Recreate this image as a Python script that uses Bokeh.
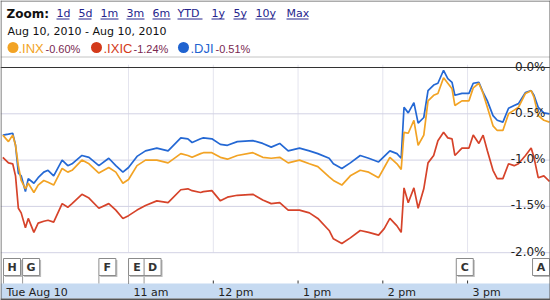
from bokeh.plotting import figure
from bokeh.models import Range1d
from bokeh.embed import file_html
from bokeh.resources import INLINE
from bokeh.core.properties import value

# ---------------- data ----------------
minutes = [1, 5, 8, 10, 12, 14, 17, 19, 23, 26,
           30, 33, 37, 43, 47, 50, 57, 62, 69, 76,
           81, 86, 90, 96, 102, 110, 118, 127, 132, 135,
           141, 143, 149, 155, 160, 167, 178, 185, 191, 197,
           203, 211, 218, 224, 232, 235, 241, 247, 254, 260,
           267, 271, 275, 280, 283, 285, 288, 292, 295, 299,
           302, 306, 309, 313, 316, 319, 321, 326, 331, 334,
           338, 341, 344, 348, 351, 355, 359, 363, 366, 371,
           375, 377, 380, 384, 388]

dji = [-0.73, -0.72, -0.71, -0.84, -1.14, -1.17, -1.34, -1.20, -1.25, -1.19,
       -1.13, -1.11, -1.17, -1.00, -1.06, -1.04, -0.95, -0.97, -1.06, -0.98,
       -1.06, -1.13, -1.08, -0.96, -0.90, -0.87, -0.90, -0.76, -0.77, -0.81,
       -0.77, -0.76, -0.77, -0.83, -0.84, -0.80, -0.79, -0.82, -0.86, -0.82,
       -0.90, -0.87, -0.90, -0.93, -0.98, -1.04, -1.09, -1.03, -0.95, -0.98,
       -1.02, -0.96, -0.90, -0.93, -0.98, -0.43, -0.49, -0.38, -0.60, -0.54,
       -0.25, -0.19, -0.17, -0.03, -0.12, -0.16, -0.30, -0.28, -0.28, -0.17,
       -0.16, -0.27, -0.36, -0.52, -0.57, -0.59, -0.44, -0.41, -0.39, -0.27,
       -0.25, -0.30, -0.43, -0.49, -0.50]

inx = [-0.73, -0.80, -0.73, -0.84, -1.06, -1.22, -1.31, -1.25, -1.35, -1.27,
       -1.22, -1.24, -1.27, -1.09, -1.13, -1.11, -1.00, -1.04, -1.14, -1.08,
       -1.13, -1.25, -1.21, -1.06, -1.00, -1.00, -1.03, -0.93, -0.95, -0.97,
       -0.93, -0.92, -0.92, -0.97, -0.99, -0.95, -0.92, -0.97, -0.98, -0.97,
       -1.03, -1.00, -1.04, -1.07, -1.18, -1.22, -1.27, -1.17, -1.11, -1.13,
       -1.19, -1.08, -0.97, -1.04, -1.10, -0.70, -0.71, -0.57, -0.84, -0.73,
       -0.36, -0.30, -0.28, -0.11, -0.17, -0.23, -0.41, -0.36, -0.36, -0.22,
       -0.17, -0.28, -0.43, -0.63, -0.68, -0.68, -0.50, -0.46, -0.43, -0.28,
       -0.25, -0.32, -0.52, -0.57, -0.59]

ixic = [-0.97, -1.03, -1.04, -1.17, -1.52, -1.57, -1.73, -1.63, -1.78, -1.68,
        -1.66, -1.65, -1.67, -1.47, -1.51, -1.47, -1.37, -1.41, -1.52, -1.47,
        -1.54, -1.63, -1.60, -1.54, -1.49, -1.44, -1.46, -1.32, -1.31, -1.33,
        -1.35, -1.34, -1.33, -1.44, -1.40, -1.38, -1.37, -1.43, -1.47, -1.46,
        -1.54, -1.54, -1.57, -1.63, -1.76, -1.85, -1.90, -1.84, -1.76, -1.78,
        -1.81, -1.74, -1.63, -1.71, -1.78, -1.30, -1.46, -1.30, -1.52, -1.31,
        -1.03, -0.95, -0.79, -0.70, -0.76, -0.77, -0.95, -0.87, -0.87, -0.73,
        -0.82, -0.73, -0.90, -1.11, -1.20, -1.20, -1.04, -1.06, -1.04, -0.95,
        -0.87, -0.97, -1.19, -1.17, -1.23]

y_ticks = [0.0, -0.5, -1.0, -1.5, -2.0]
y_tick_labels = ["0.0%", "-0.5%", "-1.0%", "-1.5%", "-2.0%"]
hour_minutes = [90, 150, 210, 270, 330]
hour_labels = ["11 am", "12 pm", "1 pm", "2 pm", "3 pm"]
day_label = "Tue Aug 10"
flag_letters = ["H", "G", "F", "E", "D", "C", "A"]
flag_minutes = [1.5, 15, 69, 90, 101, 322, 376]
zoom_links = ["1d", "5d", "1m", "3m", "6m", "YTD", "1y", "5y", "10y", "Max"]
date_range_label = "Aug 10, 2010  -  Aug 10, 2010"
series_names = [".INX", ".IXIC", ".DJI"]
series_changes = ["-0.60%", "-1.24%", "-0.51%"]

# ---------------- styles / layout ----------------
W, H = 550, 300
C_INX = "#f2a324"
C_IXIC = "#d6432a"
C_DJI = "#2468d4"
BORDER = "#5a5a5a"
FONT = value("DejaVu Sans")
FONT2 = value("Liberation Sans")

X0, X1 = -0.64, 388.7            # minutes after 9:30 at the left/right edge
PPM = W / (X1 - X0)              # pixels per minute
PPP = 92.6                       # pixels per percentage point
ZERO_PX = 67                     # row of the 0.0% line
Y1 = ZERO_PX / PPP
Y0 = -(H - ZERO_PX) / PPP

p = figure(width=W, height=H, x_range=Range1d(X0, X1), y_range=Range1d(Y0, Y1),
           output_backend="svg", toolbar_location=None,
           x_axis_location=None, y_axis_location=None,
           min_border=0, outline_line_color=None,
           background_fill_color="white", border_fill_color="white")
p.xgrid.visible = False
p.ygrid.visible = False
p.extra_x_ranges = {"px": Range1d(0, W)}
p.extra_y_ranges = {"px": Range1d(H, 0)}
PX = dict(x_range_name="px", y_range_name="px")
TY = dict(y_range_name="px")   # data x, pixel y

# ---------------- header ----------------
p.segment(x0=[0], y0=[56.5], x1=[W], y1=[56.5], line_color="#c4c4c4", line_width=1, **PX)
p.text(x=[6], y=[13], text=["Zoom:"], text_font=FONT, text_font_style="bold",
       text_font_size="12px", text_color="#111111", text_baseline="middle", **PX)
link_x = [56, 78, 100, 126, 152, 177, 211, 233, 255, 286]
link_w = [13, 13, 18, 18, 18, 25, 13, 13, 20, 22]
p.text(x=link_x, y=[13] * len(zoom_links), text=zoom_links, text_font=FONT,
       text_font_size="11px", text_color="#24248c", text_baseline="middle", **PX)
p.segment(x0=link_x, y0=[18.5] * len(link_x),
          x1=[a + b for a, b in zip(link_x, link_w)], y1=[18.5] * len(link_x),
          line_color="#24248c", line_width=1, **PX)
p.text(x=[7], y=[31], text=[date_range_label], text_font=FONT,
       text_font_size="11px", text_color="#111111", text_baseline="middle", **PX)

leg_cols = [C_INX, "#d33a1a", "#1f63d0"]
leg_cx = [12.5, 96, 183]
leg_nx = [18, 103, 190]
leg_vx = [45, 133, 215]
p.scatter(x=leg_cx, y=[47] * 3, size=11, marker="circle", color=leg_cols,
          line_color=None, **PX)
p.text(x=leg_nx, y=[47.5] * 3, text=series_names, text_font=FONT2,
       text_font_size="13px", text_color=leg_cols, text_baseline="middle", **PX)
p.text(x=leg_vx, y=[48] * 3, text=series_changes, text_font=FONT2,
       text_font_size="11px", text_color="#7a2850", text_baseline="middle", **PX)

# ---------------- chart ----------------
p.segment(x0=hour_minutes, y0=[0.03] * 5, x1=hour_minutes, y1=[-2.0] * 5,
          line_color="#e4e4ee", line_width=1)
p.segment(x0=[X0] * 4, y0=y_ticks[1:], x1=[X1] * 4, y1=y_ticks[1:],
          line_color="#d2d2e4", line_width=1)
p.segment(x0=[X0], y0=[0.0], x1=[X1], y1=[0.0], line_color="#333333", line_width=1)

p.line(minutes, dji, line_color=C_DJI, line_width=1.7)
p.line(minutes, inx, line_color=C_INX, line_width=1.7)
p.line(minutes, ixic, line_color=C_IXIC, line_width=1.7)

p.text(x=[X1] * 5, y=y_ticks, text=y_tick_labels, text_font=FONT,
       text_font_size="12px", text_color="#222222", text_align="right",
       text_baseline="alphabetic", x_offset=-5, y_offset=-1)

# ---------------- navigation strip ----------------
p.quad(left=[0], right=[W], top=[283], bottom=[298], fill_color="#c6daf1",
       line_color=None, **PX)
p.quad(left=[0], right=[W], top=[298], bottom=[300], fill_color="#555555",
       line_color=None, **PX)
p.segment(x0=hour_minutes, y0=[280] * 5, x1=hour_minutes, y1=[283] * 5,
          line_color="#333333", line_width=1, **TY)
p.text(x=hour_minutes, y=[291.5] * 5, text=hour_labels, x_offset=5, text_font=FONT,
       text_font_size="11px", text_color="#222222", text_baseline="middle", **TY)
p.text(x=[6], y=[291.5], text=[day_label], text_font=FONT,
       text_font_size="11px", text_color="#222222", text_baseline="middle", **PX)

box_w = 17 / PPM
pole_x = [m for m, l in zip(flag_minutes, flag_letters) if l != "A"]
p.segment(x0=pole_x, y0=[275] * len(pole_x), x1=pole_x, y1=[283] * len(pole_x),
          line_color="#9a9a9a", line_width=1, **TY)
p.quad(left=[m + 1.5 / PPM for m in flag_minutes],
       right=[m + box_w + 1.5 / PPM for m in flag_minutes],
       top=[259.5] * 7, bottom=[276.5] * 7, fill_color="#bdbdbd", line_color=None, **TY)
p.quad(left=flag_minutes, right=[m + box_w for m in flag_minutes],
       top=[258] * 7, bottom=[275] * 7, fill_color="white", line_color="#8a8a8a",
       line_width=1, **TY)
p.text(x=[m + box_w / 2 for m in flag_minutes], y=[266.5] * 7, text=flag_letters,
       text_font=FONT, text_font_style="bold", text_font_size="11px",
       text_color="#333333", text_align="center", text_baseline="middle", **TY)

# ---------------- outer border ----------------
p.segment(x0=[0, 0.5, W - 0.5], y0=[0.5, 0, 0], x1=[W, 0.5, W - 0.5], y1=[0.5, H, H],
          line_color=BORDER, line_width=1, **PX)

open("out.html", "w").write(file_html(p, INLINE))
